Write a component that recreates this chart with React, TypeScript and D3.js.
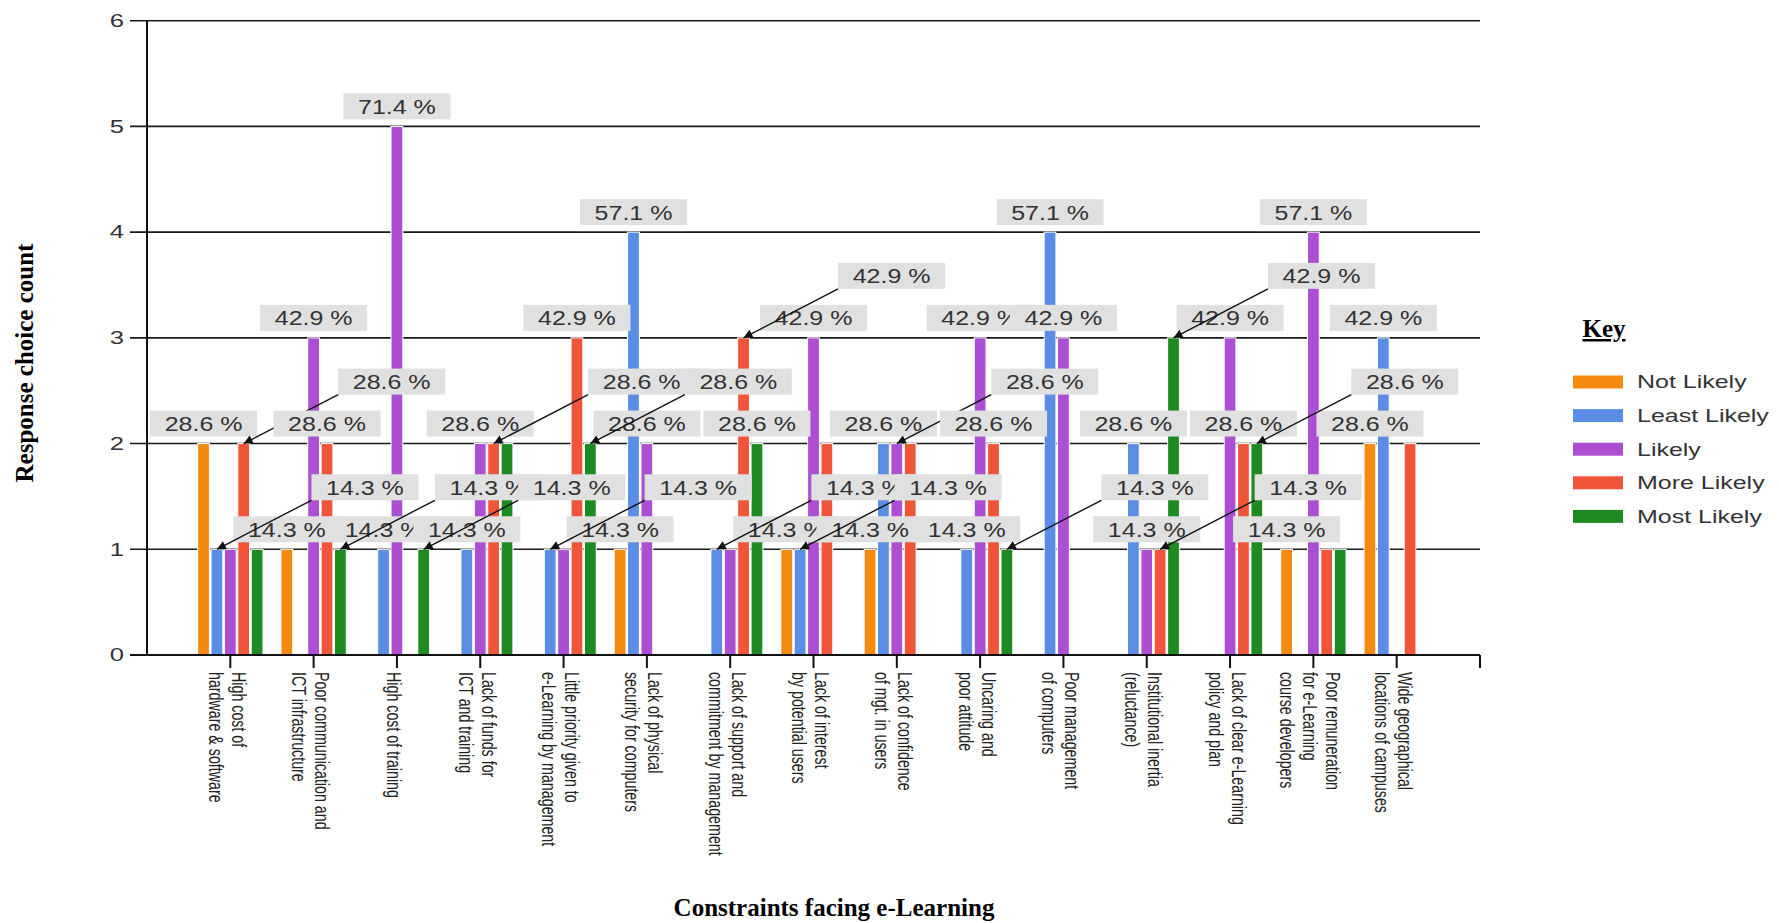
import React from "react";
import * as d3 from "d3";

// Constraint categories (each entry is the wrapped label, one string per line)
const categories: string[][] = [
  ["High cost of", "hardware & software"],
  ["Poor communication and", "ICT infrastructure"],
  ["High cost of training"],
  ["Lack of funds for", "ICT and training"],
  ["Little priority given to", "e-Learning by management"],
  ["Lack of physical", "security for computers"],
  ["Lack of support and", "commitment by management"],
  ["Lack of interest", "by potential users"],
  ["Lack of confidence", "of mgt. in users"],
  ["Uncaring and", "poor attitude"],
  ["Poor management", "of computers"],
  ["Institutional inertia", "(reluctance)"],
  ["Lack of clear e-Learning", "policy and plan"],
  ["Poor remuneration", "for e-Learning", "course developers"],
  ["Wide geographical", "locations of campuses"],
];

const seriesNames = ["Not Likely", "Least Likely", "Likely", "More Likely", "Most Likely"];
const seriesColors = ["#f48a10", "#5a8ee4", "#ad4fd2", "#f0553a", "#1e8a22"];

// Response counts per category
const notLikely = [2, 1, 0, 0, 0, 1, 0, 1, 1, 0, 0, 0, 0, 1, 2];
const leastLikely = [1, 0, 1, 1, 1, 4, 1, 1, 2, 1, 4, 2, 0, 0, 3];
const likely = [1, 3, 5, 2, 1, 2, 1, 3, 2, 3, 3, 1, 3, 4, 0];
const moreLikely = [2, 2, 0, 2, 3, 0, 3, 2, 2, 2, 0, 1, 2, 1, 2];
const mostLikely = [1, 1, 1, 2, 2, 0, 2, 0, 0, 1, 0, 3, 2, 1, 0];

const yTicks = [0, 1, 2, 3, 4, 5, 6];
const RESPONDENTS = 7;

// Percentage annotations: [category, series, placement]
// "above" sits directly over the bar, "leader" is lifted one row and points back with an arrow.
type Placement = "above" | "leader";
const annotations: [number, number, Placement][] = [
  [0, 0, "above"], [1, 0, "above"], [5, 0, "above"], [7, 0, "above"], [8, 0, "above"], [13, 0, "above"], [14, 0, "above"],
  [0, 1, "leader"], [2, 1, "above"], [3, 1, "above"], [4, 1, "leader"], [5, 1, "above"], [6, 1, "leader"], [7, 1, "leader"],
  [8, 1, "above"], [9, 1, "above"], [10, 1, "above"], [11, 1, "above"], [14, 1, "above"],
  [1, 2, "above"], [2, 2, "above"], [3, 2, "above"], [5, 2, "above"], [7, 2, "above"], [8, 2, "leader"], [9, 2, "above"],
  [10, 2, "above"], [11, 2, "above"], [12, 2, "above"], [13, 2, "above"],
  [0, 3, "leader"], [1, 3, "above"], [3, 3, "leader"], [4, 3, "above"], [6, 3, "leader"], [9, 3, "above"], [11, 3, "leader"], [12, 3, "above"],
  [1, 4, "leader"], [2, 4, "leader"], [4, 4, "leader"], [6, 4, "above"], [9, 4, "leader"], [11, 4, "leader"], [12, 4, "leader"],
];

const W = 1779;
const H = 923;
const plot = { left: 147, right: 1480, top: 20.7, bottom: 655 };
const sans = "'Liberation Sans', Arial, sans-serif";
const serif = "'Liberation Serif', 'Times New Roman', serif";

export default function App() {
  const seriesValues = [notLikely, leastLikely, likely, moreLikely, mostLikely];
  const step = (plot.right - plot.left) / (categories.length + 1);

  const x0 = d3
    .scaleBand<number>()
    .domain(d3.range(categories.length))
    .range([plot.left + step / 2, plot.right - step / 2]);
  const x1 = d3
    .scaleBand<number>()
    .domain(d3.range(seriesNames.length))
    .range([9, x0.bandwidth() - 9])
    .paddingInner(0.12);
  const y = d3.scaleLinear().domain([0, 6]).range([plot.bottom, plot.top]);

  const tickX = (c: number) => (x0(c) as number) + x0.bandwidth() / 2;
  const barX = (c: number, s: number) => (x0(c) as number) + (x1(s) as number);
  const barCx = (c: number, s: number) => barX(c, s) + x1.bandwidth() / 2;
  const fmt = (v: number) => `${((v / RESPONDENTS) * 100).toFixed(1)} %`;

  const boxW = 107;
  const boxH = 26;

  return (
    <div style={{ position: "absolute", left: 0, top: 0 }}>
      <svg width={W} height={H} style={{ display: "block", background: "#fff" }}>
        <defs>
          <marker
            id="arrowHead"
            viewBox="0 0 10 10"
            refX="10"
            refY="5"
            markerUnits="userSpaceOnUse"
            markerWidth="13"
            markerHeight="9"
            orient="auto"
          >
            <path d="M0,0 L10,5 L0,10 z" fill="#111" />
          </marker>
        </defs>

        {/* horizontal gridlines and y ticks */}
        {yTicks.map((t) => (
          <g key={`g${t}`}>
            <line x1={130} x2={plot.right} y1={y(t)} y2={y(t)} stroke="#1a1a1a" strokeWidth={1.6} />
            <text
              transform={`translate(124,${y(t)}) scale(1.35,1)`}
              textAnchor="end"
              dominantBaseline="central"
              fontFamily={sans}
              fontSize={19}
              fill="#333"
            >
              {t}
            </text>
          </g>
        ))}

        {/* y axis */}
        <line x1={plot.left} x2={plot.left} y1={plot.top} y2={plot.bottom} stroke="#111" strokeWidth={2} />

        {/* bars */}
        {seriesValues.map((vals, s) =>
          vals.map((v, c) =>
            v > 0 ? (
              <rect
                key={`b${s}-${c}`}
                x={barX(c, s)}
                y={y(v)}
                width={x1.bandwidth()}
                height={y(0) - y(v)}
                fill={seriesColors[s]}
                stroke="#fff"
                strokeWidth={1}
              />
            ) : null
          )
        )}

        {/* x axis with category ticks */}
        <line x1={130} x2={plot.right} y1={plot.bottom} y2={plot.bottom} stroke="#111" strokeWidth={2} />
        {categories.map((_, c) => (
          <line key={`t${c}`} x1={tickX(c)} x2={tickX(c)} y1={plot.bottom} y2={plot.bottom + 13} stroke="#111" strokeWidth={2} />
        ))}
        <line x1={plot.right} x2={plot.right} y1={plot.bottom} y2={plot.bottom + 13} stroke="#111" strokeWidth={2} />

        {/* category labels, rotated */}
        {categories.map((lines, c) => (
          <text
            key={`cl${c}`}
            transform={`translate(${tickX(c)},672) rotate(90) scale(0.92,1.3)`}
            fontFamily={sans}
            fontSize={15.5}
            fill="#222"
          >
            {lines.map((ln, i) => {
              const d = ((lines.length - 1) / 2 - i) * 23 - 3;
              return (
                <tspan key={i} x={0} y={-d / 1.3} dominantBaseline="central">
                  {ln}
                </tspan>
              );
            })}
          </text>
        ))}

        {/* percentage annotations */}
        {annotations.map(([c, s, place]) => {
          const v = seriesValues[s][c];
          const bx = barCx(c, s);
          const by = y(v);
          const lifted = place === "leader";
          const cx = lifted ? bx + 148 : bx;
          const cy = lifted ? by - 62 : by - 20;
          return (
            <g key={`a${s}-${c}`}>
              <rect x={cx - boxW / 2} y={cy - boxH / 2} width={boxW} height={boxH} fill="#e0e0e0" />
              <text
                transform={`translate(${cx},${cy + 1}) scale(1.25,1)`}
                textAnchor="middle"
                dominantBaseline="central"
                fontFamily={sans}
                fontSize={20}
                fill="#333"
              >
                {fmt(v)}
              </text>
              {lifted ? (
                <line
                  x1={cx - boxW / 2}
                  y1={cy + boxH / 2}
                  x2={bx}
                  y2={by}
                  stroke="#111"
                  strokeWidth={1.4}
                  markerEnd="url(#arrowHead)"
                />
              ) : null}
            </g>
          );
        })}

        {/* axis titles */}
        <text
          transform="translate(24,363) rotate(-90)"
          textAnchor="middle"
          dominantBaseline="central"
          fontFamily={serif}
          fontWeight="bold"
          fontSize={25}
          fill="#000"
        >
          Response choice count
        </text>
        <text x={834} y={916} textAnchor="middle" fontFamily={serif} fontWeight="bold" fontSize={25} fill="#000">
          Constraints facing e-Learning
        </text>

        {/* legend */}
        <text
          x={1604}
          y={337}
          textAnchor="middle"
          fontFamily={serif}
          fontWeight="bold"
          fontSize={25}
          textDecoration="underline"
          fill="#000"
        >
          Key
        </text>
        {seriesNames.map((name, s) => {
          const cy = 382 + s * 33.6;
          return (
            <g key={`l${s}`}>
              <rect x={1573} y={cy - 6.5} width={50} height={13} fill={seriesColors[s]} />
              <text
                transform={`translate(1637,${cy}) scale(1.35,1)`}
                dominantBaseline="central"
                fontFamily={sans}
                fontSize={18.5}
                fill="#333"
              >
                {name}
              </text>
            </g>
          );
        })}
      </svg>
    </div>
  );
}
